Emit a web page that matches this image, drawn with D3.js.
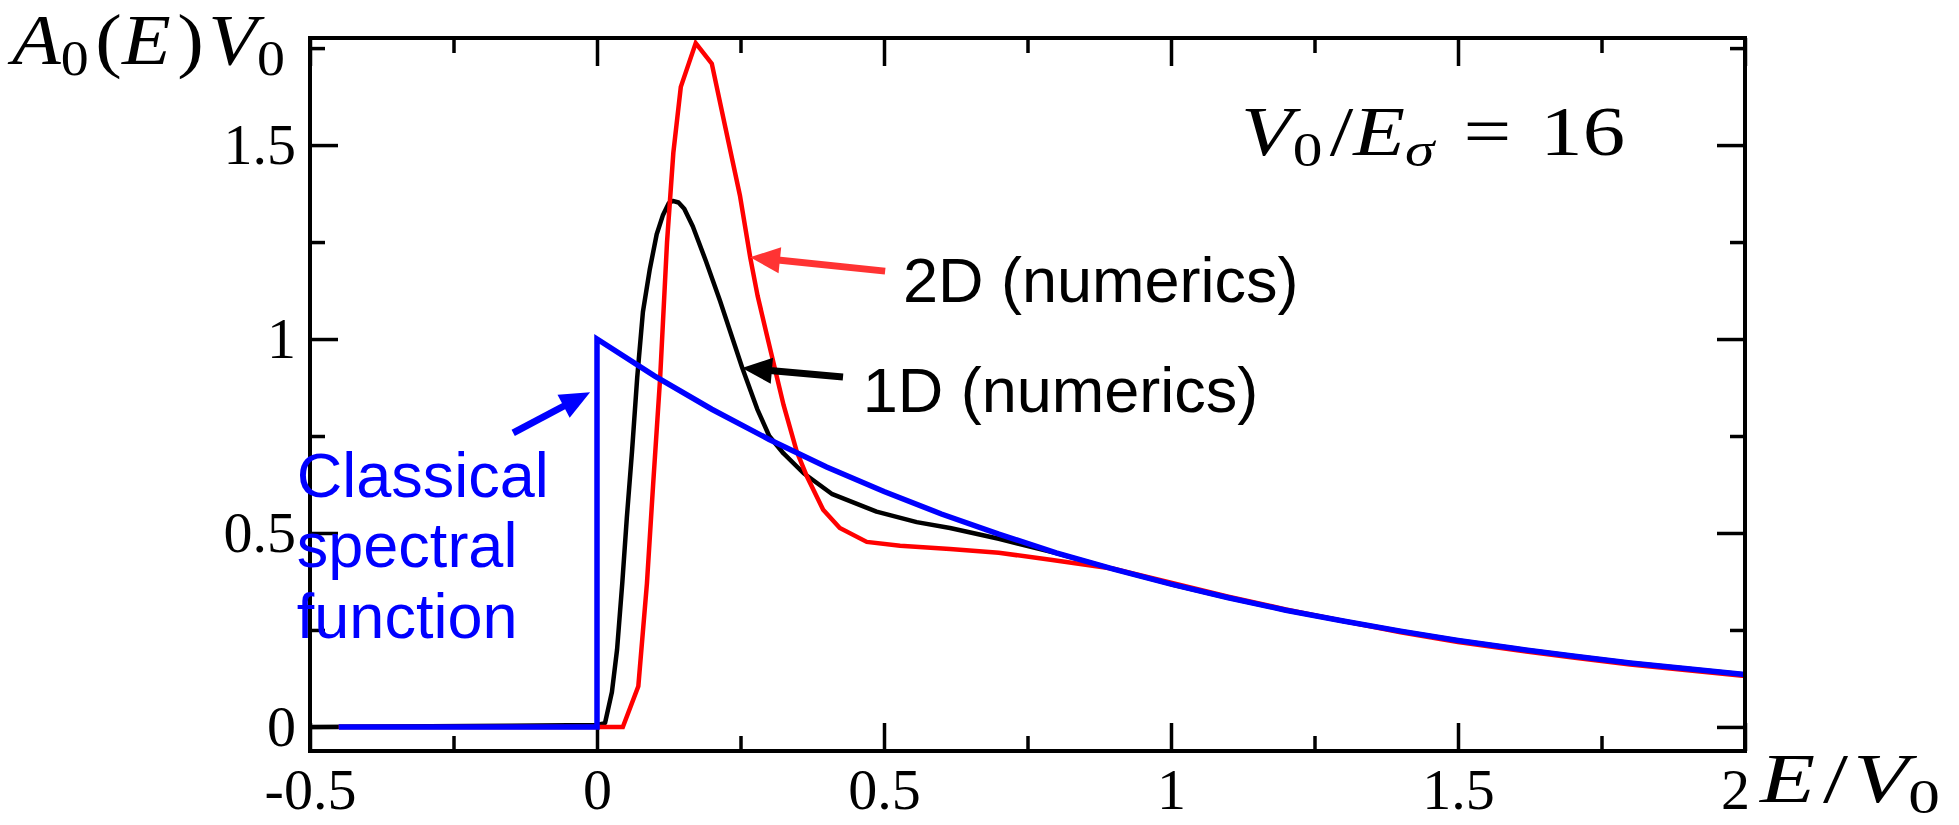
<!DOCTYPE html>
<html>
<head>
<meta charset="utf-8">
<script src="https://cdn.jsdelivr.net/npm/d3@7"></script>
<style>
  html, body { margin: 0; padding: 0; background: #ffffff; }
  svg { display: block; }
</style>
</head>
<body>
<svg id="chart" width="1959" height="825"></svg>
<script>
// ---------------- data ----------------
const xTicksMajor = [-0.5, 0, 0.5, 1, 1.5, 2];
const xTickLabels = ["-0.5", "0", "0.5", "1", "1.5", "2"];
const xTicksMinor = [-0.25, 0.25, 0.75, 1.25, 1.75];
const yTicksMajor = [0, 0.5, 1, 1.5];
const yTickLabels = ["0", "0.5", "1", "1.5"];
const yTicksMinor = [0.25, 0.75, 1.25, 1.75];

// Classical spectral function (blue)
const classicalE = [-0.45, 0, 0, 0.1, 0.2, 0.3, 0.4, 0.5, 0.6, 0.7, 0.8, 0.9, 1.0, 1.1, 1.2, 1.3, 1.4, 1.5, 1.6, 1.7, 1.8, 1.9, 2.0];
const classicalA = [0, 0, 1.0, 0.905, 0.819, 0.741, 0.670, 0.607, 0.549, 0.497, 0.449, 0.407, 0.368, 0.333, 0.301, 0.273, 0.247, 0.223, 0.202, 0.183, 0.165, 0.150, 0.135];

// 1D numerics (black)
const num1dE = [-0.5, -0.15, 0.0, 0.014, 0.026, 0.035, 0.044, 0.052, 0.061, 0.07, 0.08, 0.092, 0.104, 0.115, 0.125, 0.132, 0.142, 0.152, 0.167, 0.19, 0.214, 0.253, 0.279, 0.30, 0.325, 0.36, 0.41, 0.487, 0.557, 0.615, 0.70, 0.80, 0.90, 1.0, 1.1, 1.2, 1.3, 1.4, 1.5, 1.6, 1.7, 1.8, 1.9, 2.0];
const num1dA = [0, 0.003, 0.005, 0.01, 0.09, 0.2, 0.37, 0.54, 0.71, 0.9, 1.07, 1.18, 1.27, 1.32, 1.35, 1.356, 1.352, 1.336, 1.29, 1.2, 1.10, 0.926, 0.82, 0.75, 0.705, 0.654, 0.60, 0.555, 0.528, 0.513, 0.485, 0.448, 0.407, 0.368, 0.333, 0.301, 0.273, 0.247, 0.223, 0.202, 0.183, 0.165, 0.150, 0.135];

// 2D numerics (red)
const num2dE = [-0.45, 0.045, 0.072, 0.087, 0.098, 0.11, 0.122, 0.133, 0.146, 0.172, 0.2, 0.223, 0.249, 0.267, 0.28, 0.296, 0.325, 0.348, 0.366, 0.394, 0.423, 0.47, 0.528, 0.615, 0.70, 0.79, 0.9, 1.0, 1.1, 1.2, 1.3, 1.4, 1.5, 1.6, 1.7, 1.8, 1.9, 2.0];
const num2dA = [0, 0, 0.105, 0.37, 0.63, 0.9, 1.25, 1.48, 1.65, 1.763, 1.71, 1.55, 1.37, 1.21, 1.11, 1.01, 0.83, 0.71, 0.645, 0.56, 0.513, 0.477, 0.467, 0.459, 0.449, 0.431, 0.408, 0.372, 0.336, 0.303, 0.273, 0.244, 0.219, 0.198, 0.179, 0.161, 0.146, 0.131];

// annotation texts
const label2D = "2D (numerics)";
const label1D = "1D (numerics)";
const labelClassical = ["Classical", "spectral", "function"];

// ---------------- layout ----------------
const svg = d3.select("#chart");
const pLeft = 310, pRight = 1745, pTop = 38, pBottom = 751;
const x = d3.scaleLinear().domain([-0.5, 2]).range([pLeft, pRight]);
const y = d3.scaleLinear().domain([-0.062, 1.776]).range([pBottom, pTop]);

const serif = "'Liberation Serif', 'DejaVu Serif', serif";
const sans = "'Liberation Sans', Arial, 'DejaVu Sans', sans-serif";

// ---------------- axes (ticks inward on all four sides) ----------------
function styleAxis(g) {
  g.select(".domain").remove();
  g.selectAll(".tick line").attr("stroke", "#000").attr("stroke-width", 3.5);
  g.selectAll("text").attr("fill", "#000").attr("font-family", serif).attr("font-size", 58);
}
const major = 28, minor = 15;
const xAxisG = svg.append("g").attr("transform", `translate(0,${pBottom})`)
  .call(d3.axisBottom(x).tickValues(xTicksMajor).tickSizeInner(-major).tickSizeOuter(0).tickPadding(17)
    .tickFormat((d, i) => xTickLabels[i]))
  .call(styleAxis);
xAxisG.selectAll(".tick text").filter(d => d === 2).attr("dx", -10);
svg.append("g").attr("transform", `translate(0,${pBottom})`)
  .call(d3.axisBottom(x).tickValues(xTicksMinor).tickSizeInner(-minor).tickSizeOuter(0).tickFormat(""))
  .call(styleAxis);
svg.append("g").attr("transform", `translate(0,${pTop})`)
  .call(d3.axisTop(x).tickValues(xTicksMajor).tickSizeInner(-major).tickSizeOuter(0).tickFormat(""))
  .call(styleAxis);
svg.append("g").attr("transform", `translate(0,${pTop})`)
  .call(d3.axisTop(x).tickValues(xTicksMinor).tickSizeInner(-minor).tickSizeOuter(0).tickFormat(""))
  .call(styleAxis);
svg.append("g").attr("transform", `translate(${pLeft},0)`)
  .call(d3.axisLeft(y).tickValues(yTicksMajor).tickSizeInner(-major).tickSizeOuter(0).tickPadding(14)
    .tickFormat((d, i) => yTickLabels[i]))
  .call(styleAxis);
svg.append("g").attr("transform", `translate(${pLeft},0)`)
  .call(d3.axisLeft(y).tickValues(yTicksMinor).tickSizeInner(-minor).tickSizeOuter(0).tickFormat(""))
  .call(styleAxis);
svg.append("g").attr("transform", `translate(${pRight},0)`)
  .call(d3.axisRight(y).tickValues(yTicksMajor).tickSizeInner(-major).tickSizeOuter(0).tickFormat(""))
  .call(styleAxis);
svg.append("g").attr("transform", `translate(${pRight},0)`)
  .call(d3.axisRight(y).tickValues(yTicksMinor).tickSizeInner(-minor).tickSizeOuter(0).tickFormat(""))
  .call(styleAxis);

// ---------------- curves ----------------
const clipId = "plotclip";
svg.append("clipPath").attr("id", clipId).append("rect")
  .attr("x", pLeft).attr("y", pTop).attr("width", pRight - pLeft).attr("height", pBottom - pTop);
const line = d3.line().x(d => x(d[0])).y(d => y(d[1])).curve(d3.curveLinear);
const plot = svg.append("g").attr("clip-path", `url(#${clipId})`);

plot.append("path").datum(d3.zip(num1dE, num1dA)).attr("d", line)
  .attr("fill", "none").attr("stroke", "#000000").attr("stroke-width", 4.5).attr("stroke-linejoin", "round");
plot.append("path").datum(d3.zip(num2dE, num2dA)).attr("d", line)
  .attr("fill", "none").attr("stroke", "#ff0000").attr("stroke-width", 4.5).attr("stroke-linejoin", "miter");
plot.append("path").datum(d3.zip(classicalE, classicalA)).attr("d", line)
  .attr("fill", "none").attr("stroke", "#0000ff").attr("stroke-width", 5.5).attr("stroke-linejoin", "miter");

// frame
svg.append("rect").attr("x", pLeft).attr("y", pTop).attr("width", pRight - pLeft).attr("height", pBottom - pTop)
  .attr("fill", "none").attr("stroke", "#000").attr("stroke-width", 4);

// ---------------- annotations ----------------
function arrow(tail, tip, color, width, headLen, headHalf) {
  const x1 = x(tail[0]), y1 = y(tail[1]), x2 = x(tip[0]), y2 = y(tip[1]);
  const dx = x2 - x1, dy = y2 - y1, L = Math.hypot(dx, dy);
  const ux = dx / L, uy = dy / L, px = -uy, py = ux;
  const bx = x2 - ux * headLen, by = y2 - uy * headLen;
  svg.append("line").attr("x1", x1).attr("y1", y1).attr("x2", bx + ux * 2).attr("y2", by + uy * 2)
    .attr("stroke", color).attr("stroke-width", width);
  svg.append("polygon")
    .attr("points", [[x2, y2], [bx + px * headHalf, by + py * headHalf], [bx - px * headHalf, by - py * headHalf]].map(p => p.join(",")).join(" "))
    .attr("fill", color);
}
arrow([0.502, 1.175], [0.2666, 1.211], "#ff3333", 7, 30, 13);
arrow([0.4286, 0.902], [0.2526, 0.925], "#000000", 7, 30, 13);
arrow([-0.146, 0.758], [-0.012, 0.863], "#0000ff", 7, 30, 13);

svg.append("text").attr("x", x(0.533)).attr("y", y(1.095))
  .attr("font-family", sans).attr("font-size", 63).attr("fill", "#000").text(label2D);
svg.append("text").attr("x", x(0.463)).attr("y", y(0.812))
  .attr("font-family", sans).attr("font-size", 63).attr("fill", "#000").text(label1D);
labelClassical.forEach((t, i) => {
  svg.append("text").attr("x", x(-0.523)).attr("y", y(0.593) + i * 70.5)
    .attr("font-family", sans).attr("font-size", 63).attr("fill", "#0000ff").text(t);
});

// math-style labels
function mathText(xp, yp, parts, size, width) {
  const t = svg.append("text").attr("x", xp).attr("y", yp).attr("font-family", serif).attr("font-size", size).attr("fill", "#000");
  parts.forEach(p => {
    const s = t.append("tspan").text(p.t);
    if (p.i) s.attr("font-style", "italic");
    if (p.sub) s.attr("font-size", size * 0.7).attr("baseline-shift", "-22%");
    if (p.dx) s.attr("dx", p.dx);
  });
  if (width) t.attr("textLength", width).attr("lengthAdjust", "spacingAndGlyphs");
  return t;
}
// y axis label A_0(E)V_0
mathText(12, 64, [
  {t: "A", i: true}, {t: "0", sub: true}, {t: "(", dx: 6}, {t: "E", i: true}, {t: ")", dx: 6}, {t: "V", i: true, dx: 4}, {t: "0", sub: true}
], 72, 273);
// x axis label E/V_0
mathText(1760, 802, [
  {t: "E", i: true}, {t: "/", dx: 6}, {t: "V", i: true, dx: 4}, {t: "0", sub: true}
], 70, 180);
// V_0/E_sigma = 16
mathText(x(1.122), y(1.474), [
  {t: "V", i: true}, {t: "0", sub: true}, {t: "/", dx: 6}, {t: "E", i: true}, {t: "σ", i: true, sub: true}, {t: "=", dx: 24}, {t: "16", dx: 24}
], 70, 384);
</script>
</body>
</html>
